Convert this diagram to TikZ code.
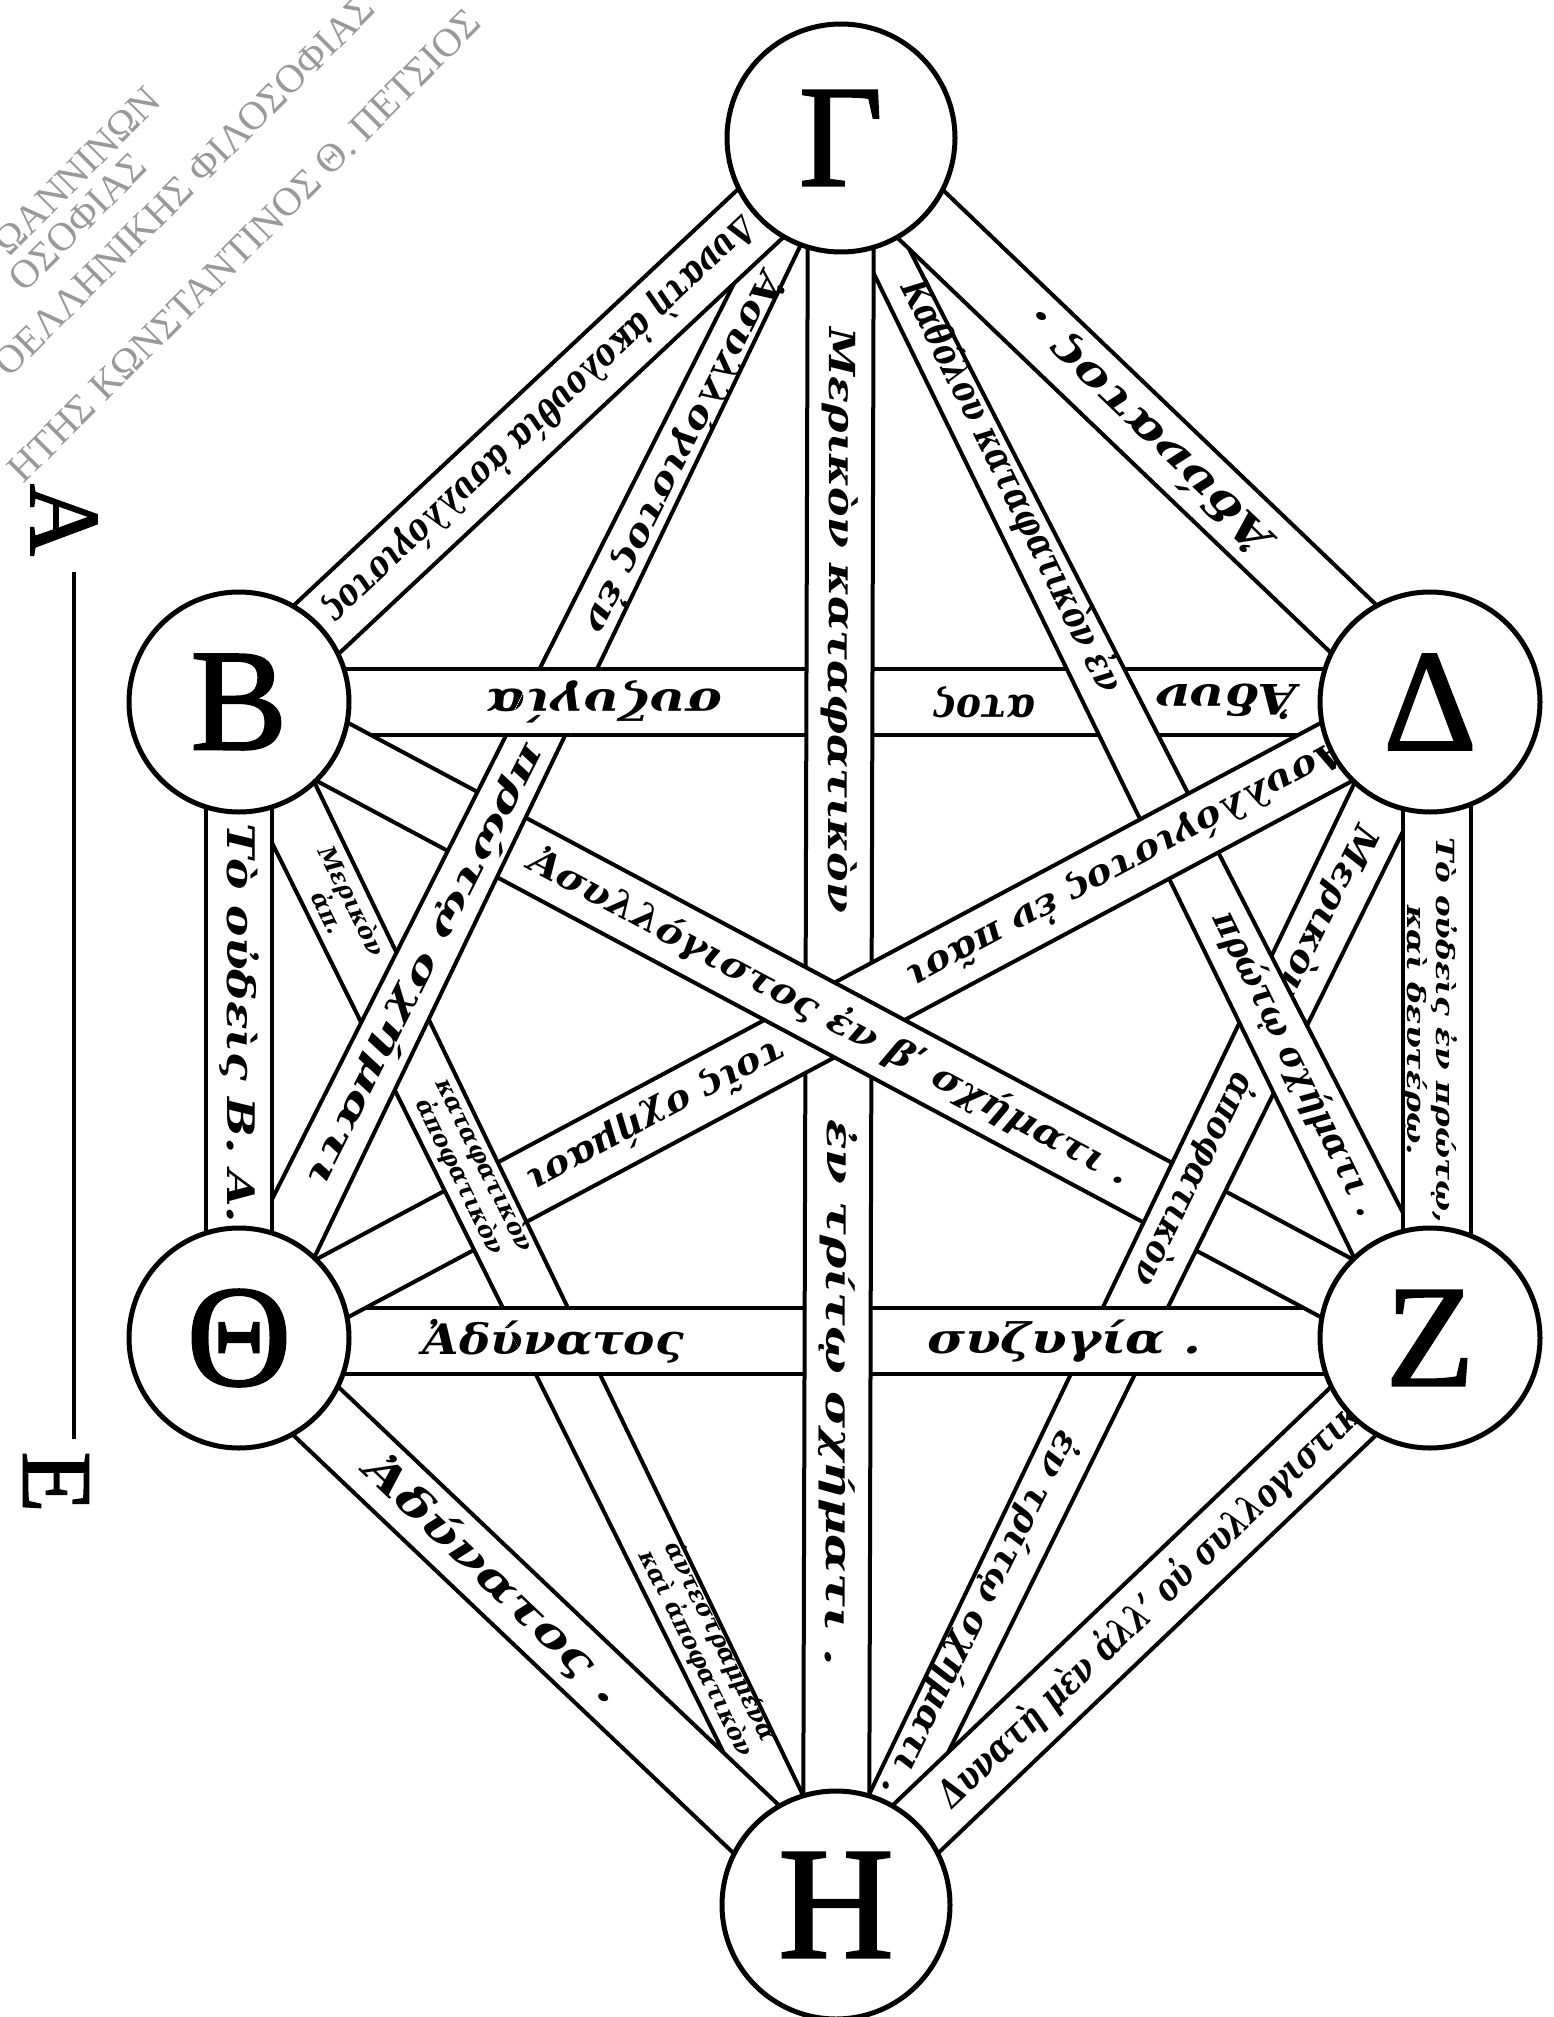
\documentclass[tikz,border=0pt]{standalone}
\usepackage{fontspec}
\usepackage{graphicx}
\usetikzlibrary{calc}
\newfontfamily\gkfont{DejaVu Serif}
\newfontfamily\capfont{Liberation Serif}
\newfontfamily\capbold{Liberation Serif}[FakeBold=1.5]
\pgfdeclarelayer{fg}
\pgfsetlayers{main,fg}
\newcommand\gkb[1]{\gkfont\bfseries\itshape\fontsize{#1}{#1}\selectfont}
\newcommand\fit[2]{\resizebox{#1pt}{\height}{#2}}
\tikzset{
  ring/.style={circle, draw, line width=5pt, fill=white, inner sep=0pt,
    font=\capbold\fontsize{145}{145}\selectfont},
  edge/.style={line width=4pt},
  lbl/.style={sloped, allow upside down, inner sep=0pt, font=\gkb{36}},
  lbltwo/.style={sloped, allow upside down, inner sep=0pt, align=center,
    font=\gkfont\bfseries\itshape\fontsize{24}{27}\selectfont},
  lblz/.style={sloped, allow upside down, inner sep=0pt, align=center,
    font=\gkfont\bfseries\itshape\fontsize{25}{29}\selectfont},
  wm/.style={rotate=45, text=black!40, inner sep=0pt,
    font=\capfont\fontsize{40}{40}\selectfont},
  side/.style={rotate=-90, inner sep=0pt, font=\capbold\fontsize{100}{100}\selectfont},
}
% strip between node centres: #3,#4 offsets on +90 side at #1,#2; #5,#6 on -90 side
\newcommand\bandpath[6]{($(#1)!#3!90:(#2)$) -- ($(#2)!#4!-90:(#1)$) -- ($(#2)!#6!90:(#1)$) -- ($(#1)!#5!-90:(#2)$) -- cycle}
\newcommand\bandshape[6]{%
  \fill[white] \bandpath{#1}{#2}{#3}{#4}{#5}{#6};
  \draw[edge] ($(#1)!#3!90:(#2)$) -- ($(#2)!#4!-90:(#1)$);
  \draw[edge] ($(#1)!#5!-90:(#2)$) -- ($(#2)!#6!90:(#1)$);
}
% inner bands
\newcommand\bBD{\bandshape{D}{B}{33pt}{33pt}{33pt}{33pt}
  \path (D.center) -- (B.center)
    node[lbl,font=\gkb{42},pos=.171]{\fit{141}{Ἀδυν}}
    node[lbl,font=\gkb{42},pos=.374]{\fit{102}{ατος}}
    node[lbl,font=\gkb{42},pos=.693]{\fit{236}{συζυγία}};}
\newcommand\bDH{\bandshape{D}{H}{33pt}{33pt}{33pt}{18pt}
  \path (D.center) -- (H.center)
    node[lbl,pos=.175]{\fit{191}{Μερικὸν}}
    node[lbl,pos=.397]{\fit{232}{ἀποφατικὸν}}
    node[lbl,pos=.758]{\fit{403}{ἐν τρίτῳ σχήματι .}};}
\newcommand\bGZ{\bandshape{G}{Z}{10pt}{33pt}{30pt}{33pt}
  \path (G.center) -- (Z.center)
    node[lbl,font=\gkb{38},pos=.29]{\fit{455}{Καθόλου καταφατικὸν ἐν}}
    node[lbl,pos=.772]{\fit{335}{πρώτῳ σχήματι .}};}
\newcommand\bTZ{\bandshape{T}{Z}{30pt}{30pt}{36pt}{36pt}
  \path (T.center) -- (Z.center)
    node[lbl,font=\gkb{42},pos=.264,yshift=-3pt]{\fit{261}{Ἀδύνατος}}
    node[lbl,font=\gkb{42},pos=.693,yshift=-3pt]{\fit{274}{συζυγία .}};}
\newcommand\bGH{\bandshape{G}{H}{33pt}{33pt}{33pt}{33pt}
  \path (G.center) -- (H.center)
    node[lbl,pos=.273]{\fit{585}{Μερικὸν καταφατικὸν}}
    node[lbl,pos=.71]{\fit{547}{ἐν τρίτῳ σχήματι .}};}
\newcommand\bDT{\bandshape{D}{T}{33pt}{33pt}{33pt}{33pt}
  \path (D.center) -- (T.center)
    node[lbl,pos=.255]{\fit{491}{Ἀσυλλόγιστος ἐν πᾶσι}}
    node[lbl,pos=.65]{\fit{288}{τοῖς σχήμασι}};}
\newcommand\bBH{\bandshape{B}{H}{33pt}{18pt}{33pt}{33pt}
  \path (B.center) -- (H.center)
    node[lbltwo,pos=.17]{Μερικὸν\\ἀπ.}
    node[lbltwo,pos=.39]{καταφατικὸν\\ἀποφατικὸν}
    node[lbltwo,pos=.786]{ἀντεστραμμένα\\καὶ ἀποφατικὸν};}
\newcommand\bBZ{\bandshape{B}{Z}{33pt}{33pt}{33pt}{33pt}
  \path (B.center) -- (Z.center)
    node[lbl,pos=.496]{\fit{676}{Ἀσυλλόγιστος ἐν βʹ σχήματι .}};}
\newcommand\bGT{\bandshape{G}{T}{10pt}{33pt}{30pt}{33pt}
  \path (G.center) -- (T.center)
    node[lbl,pos=.2625]{\fit{399}{Ἀσυλλόγιστος ἐν}}
    node[lbl,pos=.69]{\fit{490}{πρώτῳ σχήματι}};}
% outer bands
\newcommand\bGB{\bandshape{G}{B}{33pt}{33pt}{33pt}{33pt}
  \path (G.center) -- (B.center)
    node[lbl,font=\gkb{38},pos=.50]{\fit{575}{Δυνατὴ ἀκολουθία ἀσυλλόγιστος}};}
\newcommand\bGD{\bandshape{D}{G}{33pt}{33pt}{33pt}{33pt}
  \path (D.center) -- (G.center)
    node[lbl,font=\gkb{42},pos=.48]{\fit{330}{Ἀδύνατος .}};}
\newcommand\bBT{\bandshape{B}{T}{33pt}{33pt}{33pt}{33pt}
  \path (B.center) -- (T.center)
    node[lbl,font=\gkb{38},pos=.505]{\fit{400}{Τὸ οὐδεὶς Β. Α.}};}
\newcommand\bDZ{\bandshape{D}{Z}{41pt}{41pt}{27pt}{27pt}
  \path (D.center) -- (Z.center)
    node[lblz,pos=.505,yshift=0pt,xshift=7pt]{\fit{385}{Τὸ οὐδεὶς ἐν πρώτῳ,}\\\fit{250}{καὶ δευτέρῳ.}};}
\newcommand\bTH{\bandshape{T}{H}{33pt}{33pt}{33pt}{33pt}
  \path (T.center) -- (H.center)
    node[lbl,font=\gkb{42},pos=.427]{\fit{339}{Ἀδύνατος .}};}
\newcommand\bZH{\bandshape{H}{Z}{33pt}{33pt}{33pt}{33pt}
  \path (H.center) -- (Z.center)
    node[lbl,font=\gkb{38},pos=.542]{\fit{590}{Δυνατὴ μὲν ἀλλ’ οὐ συλλογιστική}};}

\begin{document}
\begin{tikzpicture}[x=1pt,y=-1pt]
\fill[white] (0,0) rectangle (1554,2017);
\useasboundingbox (0,0) rectangle (1554,2017);
% watermark
\node[wm, anchor=east] (w1) at (154,94) {ΩΑΝΝΙΝΩΝ};
\node[wm, anchor=east] (w2) at (140,160) {ΟΣΟΦΙΑΣ};
\node[wm, anchor=east] (w3) at (368,2) {ΟΕΛΛΗΝΙΚΗΣ ΦΙΛΟΣΟΦΙΑΣ};
\node[wm, anchor=east] (w4) at (474,16) {ΗΤΗΣ ΚΩΝΣΤΑΝΤΙΝΟΣ Θ. ΠΕΤΣΙΟΣ};
% A -- E
\node[side] (A) at (64,520) {A};
\node[side] (E) at (56,1482) {E};
\draw[line width=4pt, shorten <=16pt, shorten >=12pt] ([xshift=10pt]A.east) -- ([xshift=18pt]E.west);
% circles
\begin{pgfonlayer}{fg}
\node[ring, minimum size=228pt] (G) at (841,138) {Γ};
\node[ring, minimum size=220pt] (B) at (239,702) {Β};
\node[ring, minimum size=220pt] (D) at (1430,702) {Δ};
\node[ring, minimum size=220pt] (T) at (239,1338) {Θ};
\node[ring, minimum size=220pt] (Z) at (1430,1338) {Ζ};
\node[ring, minimum size=228pt, font=\capbold\fontsize{160}{160}\selectfont] (H) at (836,1905) {Η};
\end{pgfonlayer}
% inner bands, base order
\bBD \bDH \bGZ \bTZ \bGH \bDT \bBH \bBZ \bGT
% local fixes of the weave
\begin{scope}\clip \bandpath{G}{T}{14pt}{37pt}{34pt}{37pt}; \bBD \end{scope}
\begin{scope}\clip \bandpath{B}{Z}{37pt}{37pt}{37pt}{37pt}; \bDH \end{scope}
\begin{scope}\clip \bandpath{B}{H}{37pt}{22pt}{37pt}{37pt}; \bTZ \end{scope}
% outer bands
\bGB \bGD \bBT \bDZ \bTH \bZH
\end{tikzpicture}
\end{document}
